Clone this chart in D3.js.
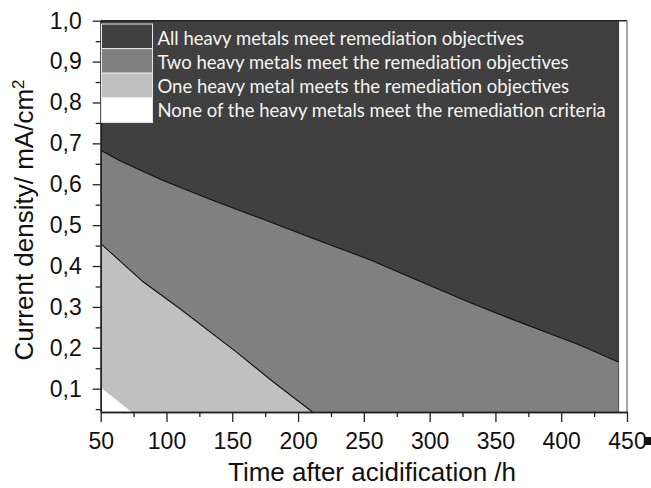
<!DOCTYPE html>
<html>
<head>
<meta charset="utf-8">
<script src="https://cdn.jsdelivr.net/npm/d3@7"></script>
<style>
  body { margin: 0; background: #fff; }
  svg { display: block; }
  .axis text { font-family: "Liberation Sans", Arial, sans-serif; font-size: 23px; fill: #111; }
  .axis path, .axis line { stroke: #222; stroke-width: 1.3px; }
</style>
</head>
<body>
<svg id="chart" width="651" height="488"></svg>
<script>
// boundary between "all metals" (dark) and "two metals" (mid grey)
var timeAll = [50, 65, 97, 135, 173, 211, 255, 293, 331, 361, 391, 414, 443.5];
var densAll = [0.683, 0.657, 0.610, 0.561, 0.515, 0.468, 0.415, 0.362, 0.310, 0.272, 0.235, 0.207, 0.165];

// boundary between "two metals" and "one metal"
var timeTwo = [50, 82, 110, 153, 181, 211];
var densTwo = [0.455, 0.362, 0.296, 0.190, 0.117, 0.043];

// boundary between "one metal" and "none"
var timeOne = [50, 73.5];
var densOne = [0.103, 0.043];

var timeRange = [50, 444];
var densRange = [0.043, 1.0];

var xTicks = [50, 100, 150, 200, 250, 300, 350, 400, 450];
var xMinor = [75, 125, 175, 225, 275, 325, 375, 425];
var yTicks = [0.1, 0.2, 0.3, 0.4, 0.5, 0.6, 0.7, 0.8, 0.9, 1.0];
var yMinor = [0.05, 0.15, 0.25, 0.35, 0.45, 0.55, 0.65, 0.75, 0.85, 0.95];

var legendLabels = [
  "All heavy metals meet remediation objectives",
  "Two heavy metals meet the remediation objectives",
  "One heavy metal meets the remediation objectives",
  "None of the heavy metals meet the remediation criteria"
];
var legendColors = ["#404040", "#808080", "#c0c0c0", "#ffffff"];

var svg = d3.select('#chart');

var x = d3.scaleLinear().domain([50, 450]).range([100.7, 627]);
var y = d3.scaleLinear().domain([0.043, 1.0]).range([412, 20.7]);

function zip(ts, ds) {
  return ts.map(function(t, i) { return [t, ds[i]]; });
}

// area below a boundary down to the bottom of the plot
var areaBelow = d3.area()
  .x(function(d) { return x(d[0]); })
  .y0(y(densRange[0]))
  .y1(function(d) { return y(d[1]); });

var line = d3.line()
  .x(function(d) { return x(d[0]); })
  .y(function(d) { return y(d[1]); });

// dark background region
svg.append('path')
  .attr('d', areaBelow(timeRange.map(function(t) { return [t, densRange[1]]; })))
  .attr('fill', legendColors[0]);

svg.append('path')
  .attr('d', areaBelow(zip(timeAll, densAll)))
  .attr('fill', legendColors[1]);

svg.append('path')
  .attr('d', areaBelow(zip(timeTwo, densTwo)))
  .attr('fill', legendColors[2]);

svg.append('path')
  .attr('d', areaBelow(zip(timeOne, densOne)))
  .attr('fill', legendColors[3]);

// contour lines
[zip(timeAll, densAll), zip(timeTwo, densTwo)].forEach(function(pts) {
  svg.append('path')
    .attr('d', line(pts))
    .attr('fill', 'none')
    .attr('stroke', '#111')
    .attr('stroke-width', 1.1);
});

// frame top and right
svg.append('line')
  .attr('x1', x(50)).attr('x2', x(450))
  .attr('y1', y(1.0)).attr('y2', y(1.0))
  .attr('stroke', '#222').attr('stroke-width', 1.5);
svg.append('line')
  .attr('x1', x(450)).attr('x2', x(450))
  .attr('y1', y(1.0)).attr('y2', y(densRange[0]))
  .attr('stroke', '#888').attr('stroke-width', 1.5);

// axes
var fmt = function(d) { return d3.format('.1f')(d).replace('.', ','); };

svg.append('g')
  .attr('class', 'axis')
  .attr('transform', 'translate(' + x(50) + ',0)')
  .call(d3.axisLeft(y).tickValues(yTicks).tickFormat(fmt).tickSize(8).tickPadding(11).tickSizeOuter(0));
svg.append('g')
  .attr('class', 'axis')
  .attr('transform', 'translate(' + x(50) + ',0)')
  .call(d3.axisLeft(y).tickValues(yMinor).tickFormat('').tickSize(5).tickSizeOuter(0));

svg.append('g')
  .attr('class', 'axis')
  .attr('transform', 'translate(0,' + y(densRange[0]) + ')')
  .call(d3.axisBottom(x).tickValues(xTicks).tickFormat(d3.format('d')).tickSize(10).tickPadding(11).tickSizeOuter(0));
svg.append('g')
  .attr('class', 'axis')
  .attr('transform', 'translate(0,' + y(densRange[0]) + ')')
  .call(d3.axisBottom(x).tickValues(xMinor).tickFormat('').tickSize(5).tickSizeOuter(0));

// small dark mark after the last tick label
svg.append('rect')
  .attr('x', 644).attr('y', 437).attr('width', 7).attr('height', 8)
  .attr('fill', '#111');

// axis titles
svg.append('text')
  .attr('x', 372).attr('y', 481)
  .attr('text-anchor', 'middle')
  .style('font-family', '"Liberation Sans", Arial, sans-serif')
  .style('font-size', '26px')
  .attr('fill', '#111')
  .text('Time after acidification /h');

var yt = svg.append('text')
  .attr('transform', 'translate(33,220) rotate(-90)')
  .attr('text-anchor', 'middle')
  .style('font-family', '"Liberation Sans", Arial, sans-serif')
  .style('font-size', '26px')
  .attr('fill', '#111');
yt.append('tspan').text('Current density/ mA/cm');
yt.append('tspan').attr('dy', -9).style('font-size', '17px').text('2');

// legend
var lg = svg.append('g');
var rowH = 24.6;
lg.selectAll('rect')
  .data(legendColors)
  .enter()
  .append('rect')
  .attr('x', 101.5)
  .attr('y', function(d, i) { return 24 + i * rowH; })
  .attr('width', 51)
  .attr('height', rowH)
  .attr('fill', function(d) { return d; })
  .attr('stroke', '#e8e8e8')
  .attr('stroke-width', 1);

lg.selectAll('text')
  .data(legendLabels)
  .enter()
  .append('text')
  .attr('x', 157.5)
  .attr('y', function(d, i) { return 45 + i * 23.9; })
  .style('font-family', 'Lato, "Open Sans", sans-serif')
  .style('font-size', '18.5px')
  .attr('fill', '#f4f4f4')
  .text(function(d) { return d; });
</script>
</body>
</html>
